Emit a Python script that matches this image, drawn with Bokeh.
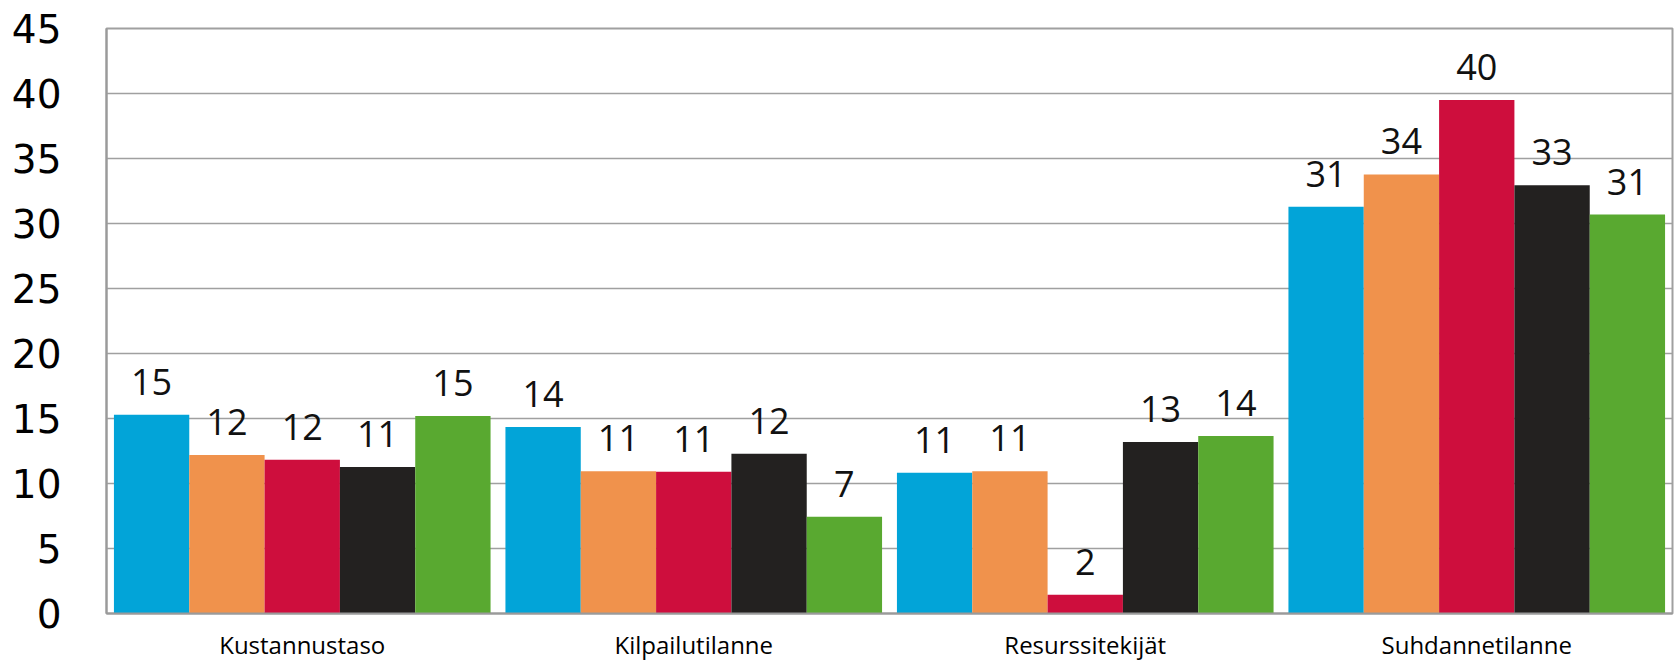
from bokeh.plotting import figure
from bokeh.models import ColumnDataSource, FactorRange, FixedTicker, LabelSet
from bokeh.transform import dodge
from bokeh.core.properties import value
from bokeh.embed import file_html
from bokeh.resources import INLINE

categories = ["Kustannustaso", "Kilpailutilanne", "Resurssitekijät", "Suhdannetilanne"]
s1 = [15.28, 14.34, 10.83, 31.28]
s2 = [12.2, 10.95, 10.95, 33.77]
s3 = [11.82, 10.9, 1.45, 39.5]
s4 = [11.26, 12.29, 13.19, 32.95]
s5 = [15.2, 7.44, 13.65, 30.69]
l1 = ["15", "14", "11", "31"]
l2 = ["12", "11", "11", "34"]
l3 = ["12", "11", "2", "40"]
l4 = ["11", "12", "13", "33"]
l5 = ["15", "7", "14", "31"]
y_ticks = [0, 5, 10, 15, 20, 25, 30, 35, 40, 45]
colors = ["#02A4D8", "#F0924C", "#CE0E3D", "#232120", "#59A930"]

series = [s1, s2, s3, s4, s5]
labels = [l1, l2, l3, l4, l5]

p = figure(x_range=FactorRange(*categories), y_range=(0, 45),
           frame_width=1566, frame_height=585, output_backend="svg", toolbar_location=None,
           min_border_left=106, min_border_right=3, min_border_top=28, min_border_bottom=44)

bw = 0.1924
for j, (vals, labs) in enumerate(zip(series, labels)):
    src = ColumnDataSource(dict(cat=categories, val=vals, lab=labs))
    off = (j - 2) * bw
    p.vbar(x=dodge("cat", off, range=p.x_range), top="val", width=bw, bottom=0,
           source=src, fill_color=colors[j], line_color=None)
    ls = LabelSet(x=dodge("cat", off, range=p.x_range), y="val", text="lab", source=src,
                  text_align="center", text_baseline="alphabetic", y_offset=20,
                  text_font=value("Open Sans"), text_font_size=value("36px"),
                  text_color="#111111")
    p.add_layout(ls)

p.yaxis.ticker = FixedTicker(ticks=y_ticks)
p.yaxis.major_tick_line_color = None
p.yaxis.minor_tick_line_color = None
p.yaxis.major_tick_out = 0
p.yaxis.major_tick_in = 0
p.yaxis.axis_line_color = "#9a9a9a"
p.yaxis.axis_line_width = 2
p.yaxis.major_label_text_font = "DejaVu Sans"
p.yaxis.major_label_text_font_size = "39px"
p.yaxis.major_label_text_color = "#000000"
p.yaxis.major_label_standoff = 45

p.xaxis.major_tick_line_color = None
p.xaxis.minor_tick_line_color = None
p.xaxis.major_tick_out = 0
p.xaxis.major_tick_in = 0
p.xaxis.axis_line_color = "#9a9a9a"
p.xaxis.axis_line_width = 2
p.xaxis.major_label_text_font = "Open Sans"
p.xaxis.major_label_text_font_size = "24px"
p.xaxis.major_label_text_color = "#000000"
p.xaxis.major_label_standoff = 14

p.xgrid.grid_line_color = None
p.ygrid.grid_line_color = "#a0a0a0"
p.ygrid.grid_line_width = 1.5
p.outline_line_color = "#a0a0a0"
p.outline_line_width = 2
p.background_fill_color = "white"
p.border_fill_color = "white"

open("out.html", "w").write(file_html(p, INLINE))
